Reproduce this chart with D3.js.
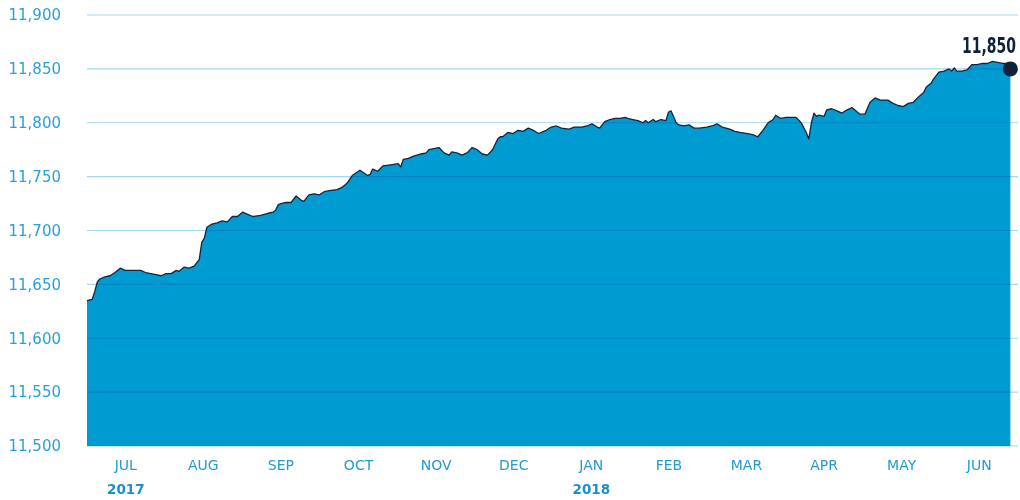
<!DOCTYPE html>
<html>
<head>
<meta charset="utf-8">
<script src="https://cdn.jsdelivr.net/npm/d3@7"></script>
<style>
  body { margin: 0; background: #ffffff; }
</style>
</head>
<body>
<div id="chart"></div>
<script>
// series start, values (day offset from 1 Jul 2017)
const startDate = new Date(2017, 6, 1);
const endDate = new Date(2018, 6, 1);

const days = [
  0, 2, 3, 4, 5, 7, 9, 11, 13, 15,
  18, 21, 23, 25, 27, 29, 31, 33, 35, 36,
  38, 40, 42, 44, 45, 46, 47, 49, 51, 53,
  55, 57, 59, 61, 63, 65, 68, 71, 73, 74,
  75, 76, 78, 80, 82, 84, 85, 87, 89, 91,
  93, 95, 98, 100, 102, 104, 107, 110, 111, 112,
  114, 116, 119, 122, 123, 124, 126, 128, 131, 133,
  134, 136, 138, 140, 142, 143, 145, 147, 149, 151,
  153, 155, 157, 159, 161, 162, 163, 165, 167, 169,
  171, 173, 175, 177, 180, 182, 184, 186, 189, 191,
  194, 196, 198, 200, 201, 203, 205, 207, 209, 211,
  212, 214, 216, 218, 219, 220, 222, 223, 225, 227,
  228, 229, 231, 232, 234, 236, 238, 240, 243, 245,
  247, 249, 252, 254, 256, 259, 261, 263, 265, 267,
  269, 270, 272, 274, 278, 280, 282, 283, 284, 285,
  286, 287, 289, 290, 292, 294, 296, 298, 300, 303,
  305, 307, 309, 311, 314, 316, 318, 320, 322, 324,
  326, 328, 329, 331, 332, 334, 336, 338, 339, 340,
  341, 343, 345, 347, 349, 351, 353, 355, 357, 359,
  361, 362
];

const values = [
  11635, 11636, 11643, 11652, 11655, 11657, 11658, 11661, 11665, 11663,
  11663, 11663, 11661, 11660, 11659, 11658, 11660, 11660, 11663, 11662,
  11666, 11665, 11667, 11673, 11689, 11693, 11703, 11706, 11707, 11709,
  11708, 11713, 11713, 11717, 11715, 11713, 11714, 11716, 11717, 11719,
  11724, 11725, 11726, 11726, 11732, 11728, 11727, 11733, 11734, 11733,
  11736, 11737, 11738, 11740, 11744, 11751, 11756, 11751, 11752, 11757,
  11755, 11760, 11761, 11762, 11759, 11766, 11767, 11769, 11771, 11772,
  11775, 11776, 11777, 11772, 11770, 11773, 11772, 11770, 11772, 11777,
  11775, 11771, 11770, 11775, 11785, 11787, 11787, 11791, 11790, 11793,
  11792, 11795, 11793, 11790, 11793, 11796, 11797, 11795, 11794, 11796,
  11796, 11797, 11799, 11796, 11795, 11801, 11803, 11804, 11804, 11805,
  11804, 11803, 11802, 11800, 11802, 11800, 11803, 11801, 11803, 11802,
  11810, 11811, 11800, 11798, 11797, 11798, 11795, 11795, 11796, 11797,
  11799, 11796, 11794, 11792, 11791, 11790, 11789, 11787, 11793, 11800,
  11803, 11807, 11804, 11805, 11805, 11800, 11791, 11785, 11800, 11809,
  11806, 11807, 11806, 11812, 11813, 11811, 11809, 11812, 11814, 11808,
  11808, 11819, 11823, 11821, 11821, 11818, 11816, 11815, 11818, 11819,
  11824, 11828, 11833, 11837, 11841, 11847, 11848, 11850, 11848, 11851,
  11848, 11848, 11849, 11854, 11854, 11855, 11855, 11857, 11856, 11855,
  11855, 11850
];

const yTicks = [11500, 11550, 11600, 11650, 11700, 11750, 11800, 11850, 11900];
const monthLabels = ["JUL", "AUG", "SEP", "OCT", "NOV", "DEC", "JAN", "FEB", "MAR", "APR", "MAY", "JUN"];
const yearLabels = ["2017", "2018"];
const yearMonths = ["JUL", "JAN"];

const width = 1020;
const height = 500;
const margin = { top: 15, right: 2, bottom: 54, left: 87 };

const data = days.map(function(d, i) {
  return { date: d3.timeDay.offset(startDate, d), value: values[i] };
});

const svg = d3.select("#chart")
  .append("svg")
    .attr("width", width)
    .attr("height", height);

const x = d3.scaleTime()
  .domain([startDate, endDate])
  .range([margin.left, width - margin.right]);

// months are labelled on equal slots
const xMonth = d3.scaleBand()
  .domain(monthLabels)
  .range([margin.left, width - margin.right]);

const y = d3.scaleLinear()
  .domain([11500, 11900])
  .range([height - margin.bottom, margin.top]);

// area under the line
const area = d3.area()
  .x(d => x(d.date))
  .y0(y(11500))
  .y1(d => y(d.value));

svg.append("path")
  .datum(data)
  .attr("d", area)
  .attr("fill", "#009bd1");

// grid lines, multiplied so they go darker over the area
svg.append("g")
  .attr("class", "grid")
  .style("mix-blend-mode", "multiply")
  .selectAll("line")
  .data(yTicks)
  .join("line")
    .attr("x1", margin.left)
    .attr("x2", width - margin.right)
    .attr("y1", d => y(d))
    .attr("y2", d => y(d))
    .attr("stroke", "#a2d8ef")
    .attr("stroke-width", 1.2);

const line = d3.line()
  .x(d => x(d.date))
  .y(d => y(d.value));

svg.append("path")
  .datum(data)
  .attr("d", line)
  .attr("fill", "none")
  .attr("stroke", "#13253d")
  .attr("stroke-width", 1.3)
  .attr("stroke-linejoin", "round");

// y axis labels
const yAxis = svg.append("g")
  .attr("transform", "translate(61,0)")
  .call(d3.axisLeft(y).tickValues(yTicks).tickSize(0).tickPadding(0).tickFormat(d3.format(",")));
yAxis.select(".domain").remove();
yAxis.selectAll("text")
  .attr("font-family", "DejaVu Sans, sans-serif")
  .attr("font-size", 15)
  .attr("fill", "#2aa0d7");

// month labels
const xAxis = svg.append("g")
  .attr("transform", "translate(0," + y(11500) + ")")
  .call(d3.axisBottom(xMonth).tickSize(0).tickPadding(14));
xAxis.select(".domain").remove();
xAxis.selectAll("text")
  .attr("font-family", "DejaVu Sans, sans-serif")
  .attr("font-size", 14)
  .attr("fill", "#229ad3");

svg.append("g")
  .selectAll("text")
  .data(yearLabels)
  .join("text")
    .attr("x", (d, i) => xMonth(yearMonths[i]) + xMonth.bandwidth() / 2)
    .attr("y", 494)
    .attr("text-anchor", "middle")
    .attr("font-family", "DejaVu Sans, sans-serif")
    .attr("font-weight", "bold")
    .attr("font-size", 13.5)
    .attr("fill", "#1a8fcb")
    .text(d => d);

// last value marker
const last = data[data.length - 1];
svg.append("circle")
  .attr("cx", x(last.date))
  .attr("cy", y(last.value))
  .attr("r", 7.5)
  .attr("fill", "#0f213b");

// condensed bold label, squeezed horizontally
svg.append("text")
  .attr("transform", "translate(" + (width - 4) + ",53) scale(0.74,1)")
  .attr("text-anchor", "end")
  .attr("font-family", "DejaVu Sans Condensed, sans-serif")
  .attr("font-weight", "bold")
  .attr("font-size", 21)
  .attr("fill", "#0f213b")
  .text(d3.format(",")(last.value));
</script>
</body>
</html>
